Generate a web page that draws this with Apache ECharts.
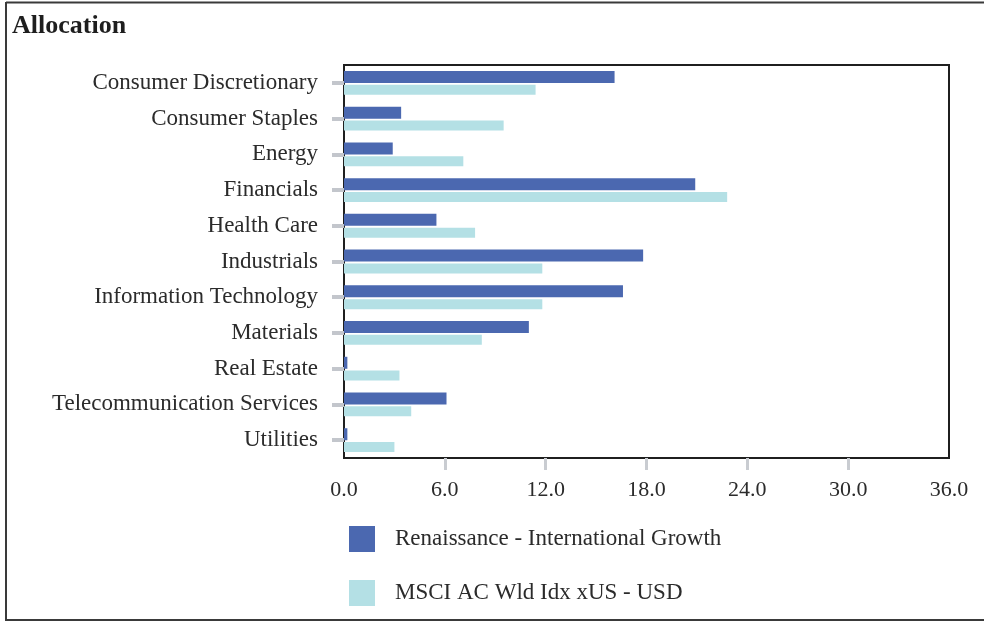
<!DOCTYPE html>
<html>
<head>
<meta charset="utf-8">
<script src="https://cdn.jsdelivr.net/npm/echarts@6/dist/echarts.min.js"></script>
<style>
  html, body { margin: 0; padding: 0; background: #ffffff; }
  #chart { width: 984px; height: 621px; }
</style>
</head>
<body>
<div id="chart"></div>
<script>
// Sector allocation: portfolio vs. benchmark (percent weights)
const sectors = [
  'Consumer Discretionary', 'Consumer Staples', 'Energy', 'Financials',
  'Health Care', 'Industrials', 'Information Technology', 'Materials',
  'Real Estate', 'Telecommunication Services', 'Utilities'
];
const portfolioName = 'Renaissance - International Growth';
const benchmarkName = 'MSCI AC Wld Idx xUS - USD';
const portfolioWeights = [16.1, 3.4, 2.9, 20.9, 5.5, 17.8, 16.6, 11.0, 0.2, 6.1, 0.2];
const benchmarkWeights = [11.4, 9.5, 7.1, 22.8, 7.8, 11.8, 11.8, 8.2, 3.3, 4.0, 3.0];
const xTicks = [6, 12, 18, 24, 30];

const FONT = '"Liberation Serif", "DejaVu Serif", serif';
const TEXT = '#2b2b2b';

const chart = echarts.init(document.getElementById('chart'), null, { renderer: 'canvas' });

chart.setOption({
  backgroundColor: '#ffffff',
  animation: false,
  title: {
    text: 'Allocation',
    left: 12, top: 13, padding: 0,
    textStyle: { fontFamily: FONT, fontWeight: 'bold', fontSize: 26, color: '#1e1e1e' }
  },
  graphic: [
    { type: 'line', shape: { x1: 6, y1: 2.5, x2: 984, y2: 2.5 }, style: { stroke: '#3a3a3a', lineWidth: 2 } },
    { type: 'line', shape: { x1: 6, y1: 2, x2: 6, y2: 621 }, style: { stroke: '#3a3a3a', lineWidth: 2 } },
    { type: 'line', shape: { x1: 5, y1: 620, x2: 984, y2: 620 }, style: { stroke: '#3a3a3a', lineWidth: 2 } }
  ],
  grid: {
    left: 344, top: 65, right: 35, bottom: 163,
    show: true, borderColor: '#1f1f1f', borderWidth: 2, backgroundColor: '#ffffff'
  },
  legend: {
    orient: 'vertical',
    left: 349, top: 526, padding: 0,
    itemWidth: 26, itemHeight: 26, itemGap: 28,
    icon: 'rect',
    selectedMode: false,
    data: [portfolioName, benchmarkName],
    textStyle: { fontFamily: FONT, fontSize: 23, color: TEXT, padding: [2, 0, 0, 15] }
  },
  xAxis: {
    type: 'value',
    min: 0, max: 36, interval: 6,
    splitLine: { show: false },
    axisLine: { show: false },
    axisTick: {
      show: true, length: 12, customValues: xTicks,
      lineStyle: { color: '#c9ccd1', width: 3 }
    },
    axisLabel: {
      fontFamily: FONT, fontSize: 22, color: TEXT, margin: 21,
      formatter: v => v.toFixed(1)
    }
  },
  yAxis: {
    type: 'category',
    inverse: true,
    data: sectors,
    axisLine: { show: false },
    axisTick: {
      show: true, alignWithLabel: true, length: 12,
      lineStyle: { color: '#c3c6cc', width: 4 }
    },
    axisLabel: { fontFamily: FONT, fontSize: 23, color: TEXT, margin: 26 }
  },
  series: [
    {
      name: portfolioName, type: 'bar',
      data: portfolioWeights,
      barWidth: 12, barGap: '15%',
      itemStyle: { color: '#4b68b0' }
    },
    {
      name: benchmarkName, type: 'bar',
      data: benchmarkWeights,
      barWidth: 10,
      itemStyle: { color: '#b4e0e5' }
    }
  ]
});
</script>
</body>
</html>
